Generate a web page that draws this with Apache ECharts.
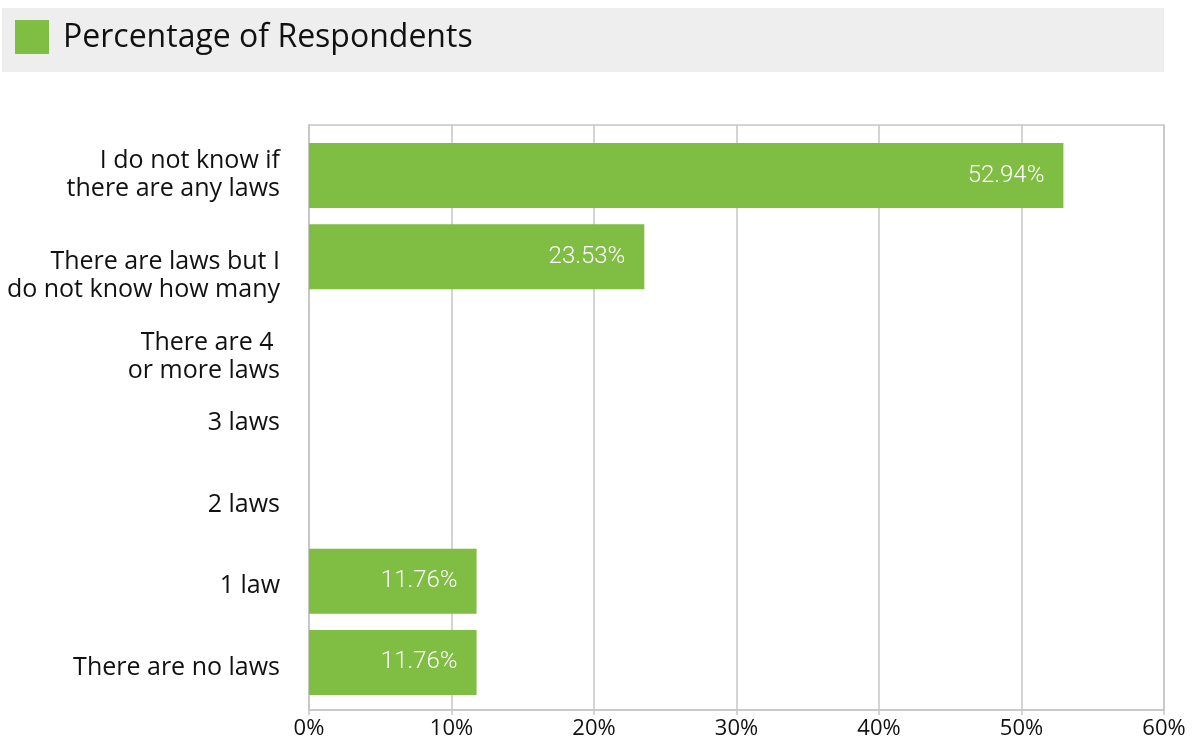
<!DOCTYPE html>
<html>
<head>
<meta charset="utf-8">
<script src="https://cdn.jsdelivr.net/npm/echarts@6/dist/echarts.min.js"></script>
<style>
  html, body { margin: 0; padding: 0; background: #ffffff; }
  #chart { width: 1202px; height: 745px; }
</style>
</head>
<body>
<div id="chart"></div>
<script>
// Survey answers, listed top to bottom
const categories = [
  'I do not know if\nthere are any laws',
  'There are laws but I\ndo not know how many',
  'There are 4 \nor more laws',
  '3 laws',
  '2 laws',
  '1 law',
  'There are no laws'
];
// Share of respondents per answer (%)
const percentages = [52.94, 23.53, 0, 0, 0, 11.76, 11.76];
// Value axis ticks
const tickValues = [0, 10, 20, 30, 40, 50, 60];
const seriesName = 'Percentage of Respondents';

// vertical nudge (px, downwards) of each category label
const labelNudge = [-1, 19, 19, 4, 5, 5, 5];

const GREEN = '#80bd43';
const GRID_GRAY = '#c6c6c6';
const FONT = '"Open Sans", "Noto Sans", sans-serif';

const valueMin = tickValues[0];
const valueMax = tickValues[tickValues.length - 1];

// category names drawn as labels anchored at the start of each row
const categoryLabelPoints = categories.map((name, i) => ({
  value: [valueMin, name],
  label: { offset: [0, labelNudge[i]] }
}));

const chart = echarts.init(document.getElementById('chart'), null, { renderer: 'canvas' });

chart.setOption({
  animation: false,
  backgroundColor: '#ffffff',
  graphic: [
    { type: 'rect', shape: { x: 2, y: 8, width: 1162, height: 64 }, style: { fill: '#eeeeee' }, silent: true },
    { type: 'rect', shape: { x: 15, y: 20, width: 34, height: 34 }, style: { fill: GREEN }, silent: true },
    {
      type: 'text', x: 63, y: 38,
      style: { text: seriesName, fill: '#111111', font: '500 32px ' + FONT, textVerticalAlign: 'middle' },
      silent: true
    }
  ],
  grid: [
    // frame with gridlines and the percentage axis
    { left: 309, right: 38, top: 125, bottom: 35, show: true, borderColor: GRID_GRAY, borderWidth: 1.5 },
    // inner band holding the category rows
    { left: 309, right: 38, top: 135, bottom: 42 }
  ],
  xAxis: [
    {
      gridIndex: 0,
      type: 'value',
      min: valueMin, max: valueMax, interval: 10,
      axisLine: { show: true, lineStyle: { color: GRID_GRAY, width: 1.5 } },
      axisTick: { show: true, length: 5, lineStyle: { color: GRID_GRAY, width: 1.5 } },
      splitLine: { show: true, lineStyle: { color: GRID_GRAY, width: 1.5 } },
      axisLabel: { formatter: '{value}%', color: '#111111', fontSize: 22, fontFamily: FONT, margin: 8 }
    },
    {
      gridIndex: 1,
      type: 'value',
      min: valueMin, max: valueMax, interval: 10,
      show: false
    }
  ],
  yAxis: [
    {
      gridIndex: 0,
      type: 'value',
      show: true,
      axisLine: { show: true, lineStyle: { color: GRID_GRAY, width: 1.5 } },
      axisTick: { show: false },
      axisLabel: { show: false },
      splitLine: { show: false }
    },
    {
      gridIndex: 1,
      type: 'category',
      data: categories,
      inverse: true,
      axisLine: { show: false },
      axisTick: { show: false },
      splitLine: { show: false },
      axisLabel: { show: false }
    }
  ],
  series: [
    {
      name: seriesName,
      type: 'bar',
      xAxisIndex: 1,
      yAxisIndex: 1,
      data: percentages,
      barCategoryGap: '20%',
      itemStyle: { color: GREEN },
      label: {
        show: true,
        position: 'insideRight',
        distance: 19,
        color: '#ffffff',
        fontSize: 24,
        fontWeight: 300,
        fontFamily: 'Roboto, sans-serif',
        formatter: p => p.value > 0 ? p.value.toFixed(2) + '%' : ''
      }
    },
    {
      name: 'categoryLabels',
      type: 'scatter',
      xAxisIndex: 1,
      yAxisIndex: 1,
      data: categoryLabelPoints,
      symbolSize: 0,
      silent: true,
      clip: false,
      itemStyle: { opacity: 1, color: '#111111' },
      label: {
        show: true,
        position: 'left',
        distance: 29,
        align: 'right',
        verticalAlign: 'middle',
        color: '#111111',
        opacity: 1,
        fontSize: 25,
        lineHeight: 28,
        fontFamily: FONT,
        formatter: p => p.value[1]
      }
    }
  ]
});
</script>
</body>
</html>
